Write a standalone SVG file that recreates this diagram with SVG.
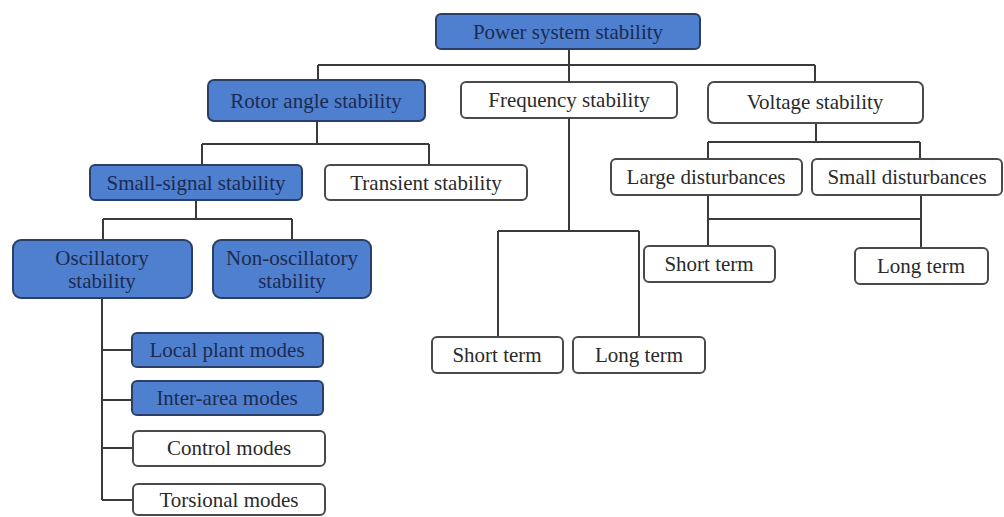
<svg xmlns="http://www.w3.org/2000/svg" width="1004" height="517" viewBox="0 0 1004 517">
<style>
.b rect{fill:#4f7fcf;stroke:#2b3f66;stroke-width:2}
.w rect{fill:#ffffff;stroke:#4a4a4a;stroke-width:2}
text{font-family:"Liberation Serif","Times New Roman",serif;font-size:21px;text-anchor:middle;dominant-baseline:central}
.b text{fill:#1c2b4f}
.w text{fill:#2a2a2a}
#connectors path{fill:none;stroke:#3a3a3a;stroke-width:2}
</style>
<rect width="1004" height="517" fill="#ffffff"/>
<g id="connectors">
<path d="M569 49V65M318 65H815M318 65V80M569 65V82M815 65V82"/>
<path d="M317 121V144M202 144H429M202 144V165M429 144V165"/>
<path d="M816 123V142M708 142H920M708 142V159M920 142V159"/>
<path d="M708 195V246M708 219H921M921 195V248"/>
<path d="M569 118V231M498 231H639M498 231V337M639 231V337"/>
<path d="M196 200V219M103 219H292M103 219V240M292 219V240"/>
<path d="M102 298V500M102 350H132M102 400H132M102 448H133M102 500H133"/>
</g>
<g id="n-power" class="b"><rect x="436" y="14" width="264" height="35" rx="5"/><text x="568" y="32">Power system stability</text></g>
<g id="n-rotor" class="b"><rect x="208" y="80" width="217" height="41" rx="6"/><text x="316" y="101">Rotor angle stability</text></g>
<g id="n-frequency" class="w"><rect x="461" y="82" width="216" height="36" rx="5"/><text x="569" y="100">Frequency stability</text></g>
<g id="n-voltage" class="w"><rect x="708" y="82" width="215" height="41" rx="6"/><text x="815" y="102">Voltage stability</text></g>
<g id="n-smallsignal" class="b"><rect x="90" y="165" width="212" height="35" rx="5"/><text x="196" y="183">Small-signal stability</text></g>
<g id="n-transient" class="w"><rect x="325" y="165" width="202" height="35" rx="5"/><text x="426" y="183">Transient stability</text></g>
<g id="n-large" class="w"><rect x="611" y="159" width="191" height="36" rx="5"/><text x="706" y="177">Large disturbances</text></g>
<g id="n-smalldist" class="w"><rect x="812" y="159" width="190" height="36" rx="5"/><text x="907" y="177">Small disturbances</text></g>
<g id="n-oscillatory" class="b"><rect x="13" y="240" width="179" height="58" rx="8"/><text x="102" y="258">Oscillatory</text><text x="102" y="281">stability</text></g>
<g id="n-nonosc" class="b"><rect x="213" y="240" width="158" height="58" rx="8"/><text x="292" y="258">Non-oscillatory</text><text x="292" y="281">stability</text></g>
<g id="n-vshort" class="w"><rect x="644" y="246" width="131" height="36" rx="5"/><text x="709" y="264">Short term</text></g>
<g id="n-vlong" class="w"><rect x="855" y="248" width="133" height="36" rx="5"/><text x="921" y="266">Long term</text></g>
<g id="n-fshort" class="w"><rect x="432" y="337" width="131" height="36" rx="5"/><text x="497" y="355">Short term</text></g>
<g id="n-flong" class="w"><rect x="573" y="337" width="132" height="36" rx="5"/><text x="639" y="355">Long term</text></g>
<g id="n-local" class="b"><rect x="132" y="333" width="191" height="34" rx="5"/><text x="227" y="350">Local plant modes</text></g>
<g id="n-interarea" class="b"><rect x="132" y="381" width="191" height="34" rx="5"/><text x="227" y="398">Inter-area modes</text></g>
<g id="n-control" class="w"><rect x="133" y="431" width="192" height="35" rx="5"/><text x="229" y="448">Control modes</text></g>
<g id="n-torsional" class="w"><rect x="133" y="484" width="192" height="31" rx="5"/><text x="229" y="500">Torsional modes</text></g>
</svg>
